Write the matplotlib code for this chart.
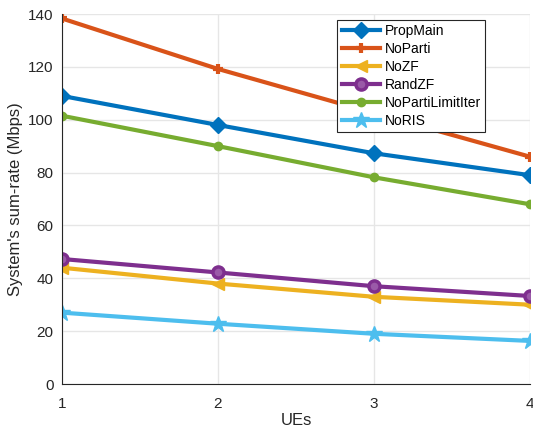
import matplotlib
matplotlib.use("Agg")
import matplotlib.pyplot as plt

ues = [1, 2, 3, 4]
prop_main = [109, 98, 87.3, 79]
no_parti = [138.3, 119.2, 102.5, 86]
no_zf = [44, 38, 33, 30]
rand_zf = [47.3, 42.2, 37, 33.3]
no_parti_limit = [101.5, 90, 78.2, 68]
no_ris = [27, 22.8, 19, 16.3]

plt.rcParams['font.family'] = ['Liberation Sans', 'DejaVu Sans']

fig = plt.figure(figsize=(5.33, 4.3), dpi=100)
ax = fig.add_axes([62 / 533, 1 - 384 / 430, 468 / 533, 370 / 430])

lw = 3
ax.plot(ues, prop_main, color='#0072BD', lw=lw, marker='D', ms=8, label='PropMain')
ax.plot(ues, no_parti, color='#D95319', lw=lw, marker='+', ms=7, mew=3, label='NoParti')
ax.plot(ues, no_zf, color='#EDB120', lw=lw, marker='<', ms=9, label='NoZF')
ax.plot(ues, rand_zf, color='#7E2F8E', lw=lw, marker='o', ms=8, mfc='#9a5aa8', mew=2.5, label='RandZF')
ax.plot(ues, no_parti_limit, color='#77AC30', lw=lw, marker='o', ms=6, label='NoPartiLimitIter')
ax.plot(ues, no_ris, color='#4DBEEE', lw=lw, marker='*', ms=12, label='NoRIS')

ax.set_xlim(1, 4)
ax.set_ylim(0, 140)
ax.set_xticks([1, 2, 3, 4])
ax.set_yticks(range(0, 141, 20))
ax.grid(True, color='#e6e6e6', lw=1)
ax.set_axisbelow(True)
for s in ['top', 'right']:
    ax.spines[s].set_visible(False)
for s in ['left', 'bottom']:
    ax.spines[s].set_color('#262626')
ax.tick_params(direction='in', colors='#262626', labelsize=11, length=0)
ax.tick_params(axis='x', pad=9)
ax.tick_params(axis='y', pad=6)
ax.set_xlabel('UEs', fontsize=12, color='#262626', labelpad=2)
ax.set_ylabel("System's sum-rate (Mbps)", fontsize=12, color='#262626')

leg = ax.legend(loc='upper right', bbox_to_anchor=(0.904, 0.984), borderaxespad=0,
                fontsize=10, fancybox=False, edgecolor='#262626', framealpha=1,
                handlelength=2.8, labelspacing=0.28, borderpad=0.3, handletextpad=0.3)
leg.get_frame().set_linewidth(0.8)

fig.savefig('out.png', dpi=100)
